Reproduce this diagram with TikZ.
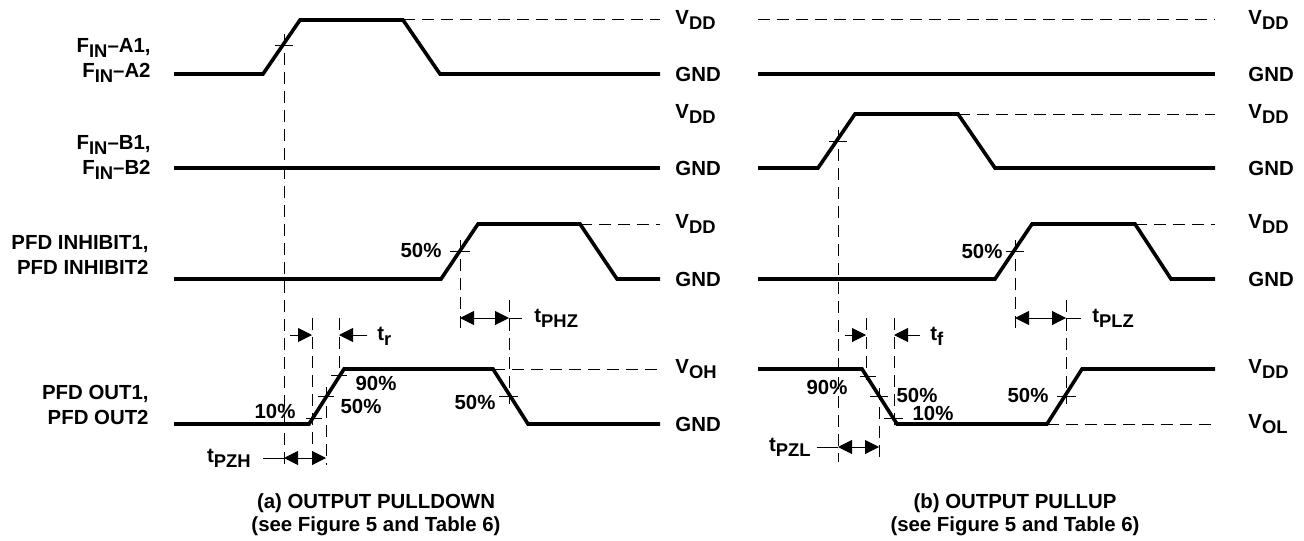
\documentclass[tikz,border=0pt]{standalone}
\usepackage{fontspec}
\setmainfont{Liberation Sans}
\usetikzlibrary{arrows.meta}
\newcommand{\lo}[1]{\raisebox{-0.45ex}{\fontsize{9.2}{10}\selectfont#1}}

\begin{document}
\begin{tikzpicture}[x=0.5pt,y=-0.5pt,>={Triangle[length=7pt,width=7pt]},
  font=\bfseries\fontsize{10.2}{12.5}\selectfont,
  sig/.style={line width=1.8pt},
  guide/.style={line width=0.5pt,dash pattern=on 6pt off 3.5pt},
  tick/.style={line width=0.5pt},
  lev/.style={anchor=west,inner sep=0pt},
  pct/.style={inner sep=0pt},
  sname/.style={anchor=north east,align=right,inner sep=0pt}]
  \useasboundingbox (0,0) rectangle (1304,540);

  % Signal names
  \node[sname] (fina) at (151,38) {F\lo{IN}–A1,\\F\lo{IN}–A2};
  \node[sname] (finb) at (151,135) {F\lo{IN}–B1,\\F\lo{IN}–B2};
  \node[sname] (inh) at (149,235) {PFD INHIBIT1,\\PFD INHIBIT2};
  \node[sname] (out) at (149,385) {PFD OUT1,\\PFD OUT2};

  % ---- (a) output pulldown ----
  % F_IN-A
  \draw[sig] (174,74) -- (263,74) -- (300,20) -- (403,20) -- (440,74) -- (660,74);
  \draw[guide] (403,20) -- (660,20);
  \draw[tick] (275,46) -- (293,46);
  % F_IN-B
  \draw[sig] (174,168) -- (660,168);
  % PFD INHIBIT
  \draw[sig] (174,279) -- (441,279) -- (478,224) -- (580,224) -- (617,279) -- (660,279);
  \draw[guide] (580,224) -- (660,224);
  \draw[tick] (450,251) -- (470,251);
  % PFD OUT
  \draw[sig] (174,424) -- (309,424) -- (344,369) -- (493,369) -- (528,424) -- (660,424);
  \draw[guide] (493,369) -- (660,369);
  \draw[tick] (306,418) -- (322,418);
  \draw[tick] (318,396) -- (334,396);
  \draw[tick] (331,375) -- (347,375);
  \draw[tick] (499,396) -- (518,396);
  % Timing guides
  \draw[guide] (284,34) -- (284,465);
  \draw[guide] (460,240) -- (460,332);
  \draw[guide] (509,300) -- (509,404);
  \draw[guide] (312,318) -- (312,465);
  \draw[guide] (326,387) -- (326,465);
  \draw[guide] (339,318) -- (339,376);
  % Levels
  \node[lev] (a1) at (675,20) {V\lo{DD}};
  \node[lev] (a2) at (675,74) {GND};
  \node[lev] (a3) at (675,114) {V\lo{DD}};
  \node[lev] (a4) at (675,168) {GND};
  \node[lev] (a5) at (675,224) {V\lo{DD}};
  \node[lev] (a6) at (675,279) {GND};
  \node[lev] (a7) at (675,369) {V\lo{OH}};
  \node[lev] (a8) at (675,424) {GND};
  % Percent marks
  \node[pct] (pa1) at (421,250) {50\%};
  \node[pct] (pa2) at (275,411) {10\%};
  \node[pct] (pa3) at (376,383) {90\%};
  \node[pct] (pa4) at (361,406) {50\%};
  \node[pct] (pa5) at (475,402) {50\%};
  % t_r
  \coordinate (tr1) at (312,335);
  \coordinate (tr2) at (339,335);
  \node[lev] (tr) at (377,336) {t\lo{r}};
  \draw[tick,->] (290,335) -- (tr1);
  \draw[tick,->] (367,335) -- (tr2);
  % t_PHZ
  \coordinate (phz1) at (460,318);
  \coordinate (phz2) at (509,318);
  \node[lev] (tphz) at (534,318) {t\lo{PHZ}};
  \draw[tick,<->] (phz1) -- (phz2);
  \draw[tick] (phz2) -- ++(13,0);
  % t_PZH
  \coordinate (pzh1) at (284,458);
  \coordinate (pzh2) at (326,458);
  \node[lev,anchor=east] (tpzh) at (251,458) {t\lo{PZH}};
  \draw[tick] (263,458) -- (pzh1);
  \draw[tick,<->] (pzh1) -- (pzh2);
  \node[align=center,anchor=north,inner sep=0pt] (capa) at (376,493)
    {(a) OUTPUT PULLDOWN\\[-1pt](see Figure 5 and Table 6)};

  % ---- (b) output pullup ----
  % F_IN-A
  \draw[sig] (758,74) -- (1215,74);
  \draw[guide] (758,20) -- (1215,20);
  % F_IN-B
  \draw[sig] (758,168) -- (818,168) -- (855,114) -- (958,114) -- (995,168) -- (1215,168);
  \draw[guide] (958,114) -- (1215,114);
  \draw[tick] (829,141) -- (847,141);
  % PFD INHIBIT
  \draw[sig] (758,279) -- (995,279) -- (1032,224) -- (1135,224) -- (1171,279) -- (1215,279);
  \draw[guide] (1135,224) -- (1215,224);
  \draw[tick] (1006,251) -- (1024,251);
  % PFD OUT
  \draw[sig] (758,369) -- (862,369) -- (897,424) -- (1047,424) -- (1082,369) -- (1215,369);
  \draw[guide] (1047,424) -- (1215,424);
  \draw[tick] (860,376) -- (876,376);
  \draw[tick] (870,396) -- (888,396);
  \draw[tick] (884,418) -- (903,418);
  \draw[tick] (1057,396) -- (1076,396);
  % Timing guides
  \draw[guide] (838,130) -- (838,462);
  \draw[guide] (866,318) -- (866,380);
  \draw[guide] (879,388) -- (879,462);
  \draw[guide] (894,318) -- (894,427);
  \draw[guide] (1015,240) -- (1015,330);
  \draw[guide] (1066,300) -- (1066,404);
  % Levels
  \node[lev] (b1) at (1248,20) {V\lo{DD}};
  \node[lev] (b2) at (1248,74) {GND};
  \node[lev] (b3) at (1248,114) {V\lo{DD}};
  \node[lev] (b4) at (1248,168) {GND};
  \node[lev] (b5) at (1248,224) {V\lo{DD}};
  \node[lev] (b6) at (1248,279) {GND};
  \node[lev] (b7) at (1248,369) {V\lo{DD}};
  \node[lev] (b8) at (1248,424) {V\lo{OL}};
  % Percent marks
  \node[pct] (pb1) at (982,251) {50\%};
  \node[pct] (pb2) at (827,387) {90\%};
  \node[pct] (pb3) at (917,395) {50\%};
  \node[pct] (pb4) at (933,413) {10\%};
  \node[pct] (pb5) at (1028,395) {50\%};
  % t_f
  \coordinate (tf1) at (866,335);
  \coordinate (tf2) at (894,335);
  \node[lev] (tf) at (930,336) {t\lo{f}};
  \draw[tick,->] (845,335) -- (tf1);
  \draw[tick,->] (920,335) -- (tf2);
  % t_PLZ
  \coordinate (plz1) at (1015,318);
  \coordinate (plz2) at (1066,318);
  \node[lev] (tplz) at (1092,318) {t\lo{PLZ}};
  \draw[tick,<->] (plz1) -- (plz2);
  \draw[tick] (plz2) -- ++(15,0);
  % t_PZL
  \coordinate (pzl1) at (838,447);
  \coordinate (pzl2) at (879,447);
  \node[lev,anchor=east] (tpzl) at (811,447) {t\lo{PZL}};
  \draw[tick] (817,447) -- (pzl1);
  \draw[tick,<->] (pzl1) -- (pzl2);
  \node[align=center,anchor=north,inner sep=0pt] (capb) at (1015,493)
    {(b) OUTPUT PULLUP\\[-1pt](see Figure 5 and Table 6)};
\end{tikzpicture}
\end{document}
